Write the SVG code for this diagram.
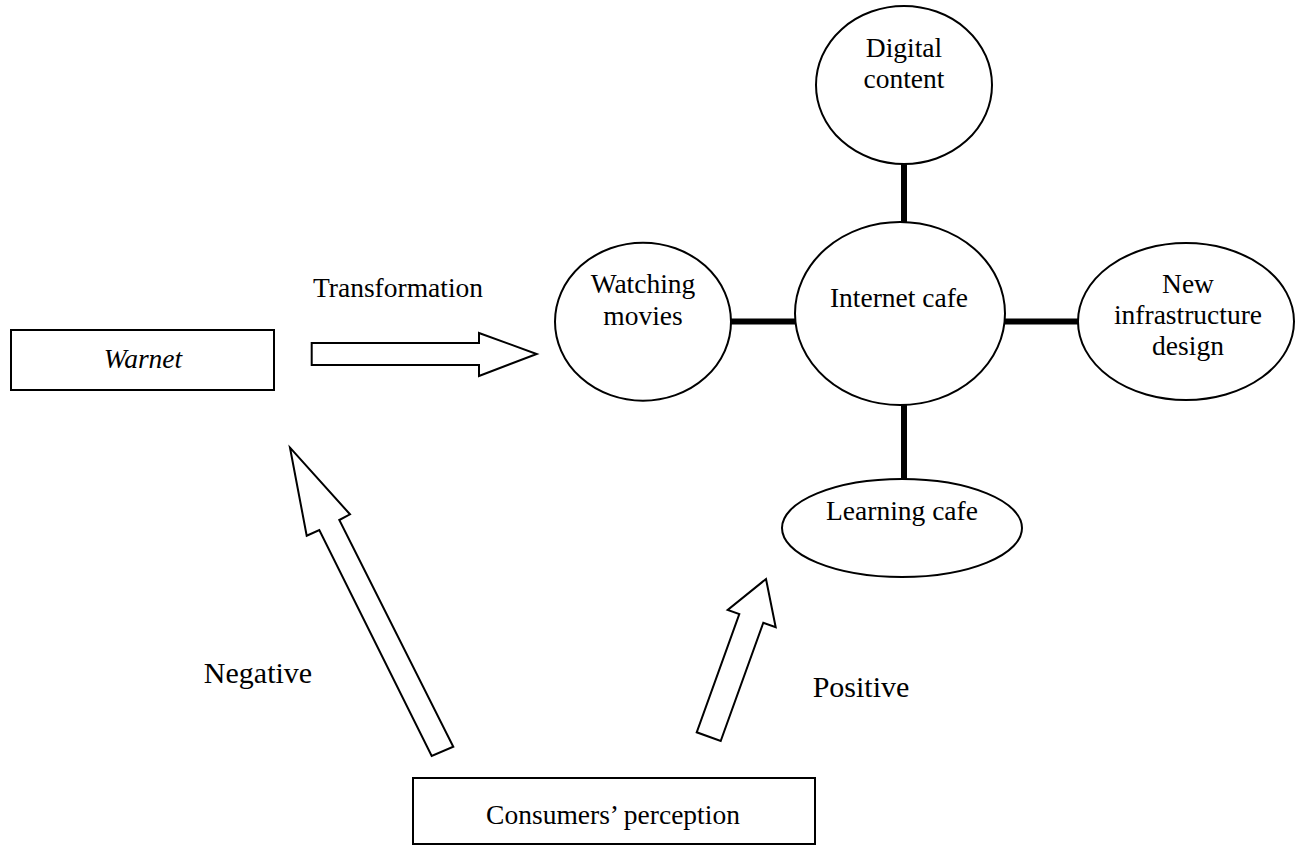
<svg xmlns="http://www.w3.org/2000/svg" width="1297" height="846" viewBox="0 0 1297 846">
<style>
.shape{fill:#fff;stroke:#000;stroke-width:2}
.link{stroke:#000;stroke-width:6;fill:none}
text{font-family:"Liberation Serif","Times New Roman",serif;font-size:27.5px;fill:#000;text-anchor:middle}
.big{font-size:30px}
</style>
<rect width="1297" height="846" fill="#fff"/>
<g id="connectors">
<line class="link" x1="904" y1="164" x2="904" y2="223"/>
<line class="link" x1="904" y1="404" x2="904" y2="480"/>
<line class="link" x1="730" y1="321.5" x2="796" y2="321.5"/>
<line class="link" x1="1004" y1="321.5" x2="1079" y2="321.5"/>
<polygon id="arrow-transformation" class="shape" points="311.7,343 479,343 479,333 536.7,354 479,376 479,365 311.7,365"/>
<polygon id="arrow-negative" class="shape" points="290,447.7 350,514.3 339.3,520 453.3,746.7 431.7,756 319.3,530 306.7,535.7"/>
<polygon id="arrow-positive" class="shape" points="766,579 775.7,627.3 763.3,622.7 720.7,741 696.7,732.3 739.3,614 727.7,610"/>
</g>
<g id="label-transformation"><text x="398" y="297">Transformation</text></g>
<g id="label-negative"><text class="big" x="258" y="683">Negative</text></g>
<g id="label-positive"><text class="big" x="861" y="697">Positive</text></g>
<g id="node-warnet">
<rect class="shape" x="11" y="330" width="263" height="60"/>
<text x="143" y="368" font-style="italic">Warnet</text>
</g>
<g id="node-consumers">
<rect class="shape" x="413" y="778" width="402" height="66"/>
<text x="613" y="824">Consumers’ perception</text>
</g>
<g id="node-digital">
<ellipse class="shape" cx="904" cy="85" rx="88" ry="79"/>
<text x="904" y="57">Digital</text>
<text x="904" y="88">content</text>
</g>
<g id="node-internet">
<ellipse class="shape" cx="900" cy="313.5" rx="105" ry="91.5"/>
<text x="899" y="307">Internet cafe</text>
</g>
<g id="node-watching">
<ellipse class="shape" cx="643" cy="321.7" rx="88" ry="79"/>
<text x="643" y="293">Watching</text>
<text x="643" y="325">movies</text>
</g>
<g id="node-new">
<ellipse class="shape" cx="1186" cy="321.5" rx="108" ry="78.5"/>
<text x="1188" y="293">New</text>
<text x="1188" y="324">infrastructure</text>
<text x="1188" y="355">design</text>
</g>
<g id="node-learning">
<ellipse class="shape" cx="902" cy="528" rx="120" ry="49"/>
<text x="902" y="520">Learning cafe</text>
</g>
</svg>
